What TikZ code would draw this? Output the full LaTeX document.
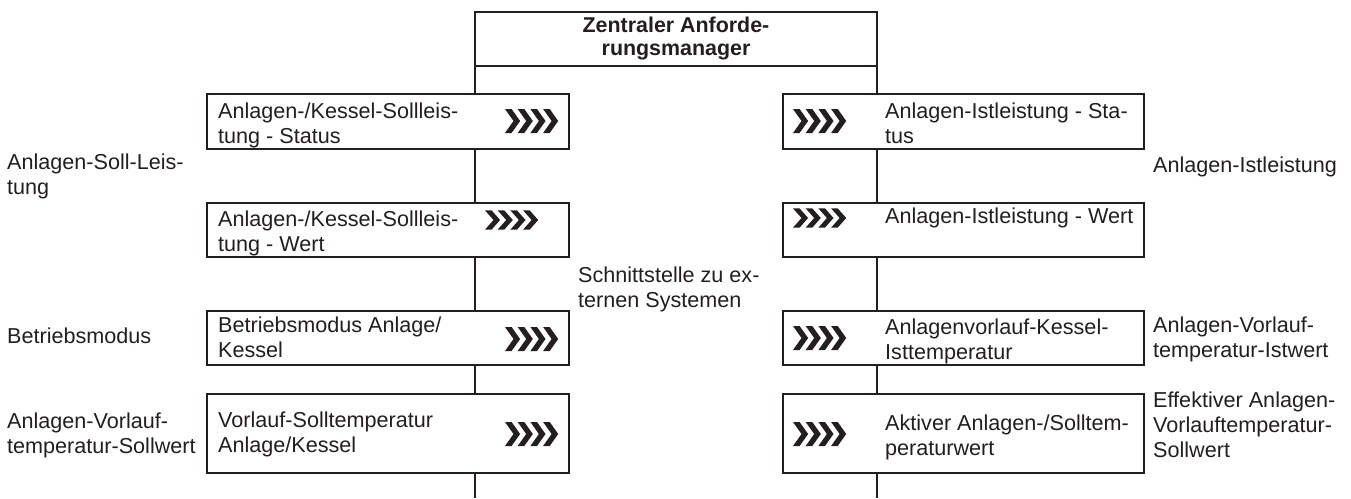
\documentclass[tikz,border=0pt]{standalone}
\usepackage{fontspec}
\setmainfont{Liberation Sans}
\definecolor{ink}{RGB}{35,31,32}
\tikzset{
  x=1pt, y=-1pt,
  every node/.style={text=ink},
  box/.style={draw=ink, line width=1.25pt, fill=white, inner sep=0pt, outer sep=0pt, anchor=north west},
  % anchored at the baseline of the last line
  label text/.style={font=\fontsize{21.6}{25}\selectfont, align=left, anchor=base west, inner sep=0pt},
  bus/.style={draw=ink, line width=1.25pt},
  pics/fwd/.style={code={
    \foreach \i in {0,...,3}{
      \fill[ink] (\i*12.7,-12) -- ++(6.6,0) -- ++(8.5,12) -- ++(-8.5,12)
                 -- ++(-6.6,0) -- ++(8.5,-12) -- cycle;
    }
  }}
}
\begin{document}
\begin{tikzpicture}
\useasboundingbox (0,0) rectangle (1351,498);

% central request manager
\node[box, minimum width=402, minimum height=54] (mgr) at (475,12) {};
\node[font=\fontsize{21.4}{23}\selectfont\bfseries, align=center, anchor=base, inner sep=0pt]
  (mgrtext) at (676,55) {Zentraler Anforde-\\rungsmanager};

% two bus lines running down from the manager
\coordinate (busL) at (475,498);
\coordinate (busR) at (877,498);
\draw[bus] (mgr.south west) -- (busL);
\draw[bus] (mgr.south east) -- (busR);

% left column: set values
\node[box, minimum width=362, minimum height=55] (L1) at (207,94) {};
\node[box, minimum width=362, minimum height=54] (L2) at (207,203) {};
\node[box, minimum width=362, minimum height=54] (L3) at (207,311) {};
\node[box, minimum width=362, minimum height=79] (L4) at (207,394) {};

% right column: actual values
\node[box, minimum width=361, minimum height=55] (R1) at (783,94) {};
\node[box, minimum width=361, minimum height=54] (R2) at (783,203) {};
\node[box, minimum width=361, minimum height=54] (R3) at (783,311) {};
\node[box, minimum width=361, minimum height=79] (R4) at (783,394) {};

% box texts
\node[label text] (L1t) at (218,143) {Anlagen-/Kessel-Sollleis-\\tung - Status};
\node[label text] (L2t) at (218,251) {Anlagen-/Kessel-Sollleis-\\tung - Wert};
\node[label text] (L3t) at (218,357) {Betriebsmodus Anlage/\\Kessel};
\node[label text] (L4t) at (218,452) {Vorlauf-Solltemperatur\\Anlage/Kessel};
\node[label text] (R1t) at (885,143) {Anlagen-Istleistung - Sta-\\tus};
\node[label text] (R2t) at (885,223) {Anlagen-Istleistung - Wert};
\node[label text] (R3t) at (885,359) {Anlagenvorlauf-Kessel-\\Isttemperatur};
\node[label text] (R4t) at (885,455) {Aktiver Anlagen-/Solltem-\\peraturwert};

% direction markers
\pic at (505,121) {fwd};
\pic[yscale=0.8] at (485,220) {fwd};
\pic at (505,339) {fwd};
\pic at (505,434) {fwd};
\pic at (793,121) {fwd};
\pic[yscale=0.8] at (793,218) {fwd};
\pic at (793,338) {fwd};
\pic at (793,434) {fwd};

% outer signal names
\node[label text] (sollL) at (7,194) {Anlagen-Soll-Leis-\\tung};
\node[label text] (modeL) at (7,343) {Betriebsmodus};
\node[label text] (vlL) at (7,453) {Anlagen-Vorlauf-\\temperatur-Sollwert};
\node[label text] (istR) at (1153,172) {Anlagen-Istleistung};
\node[label text] (vlR) at (1153,357) {Anlagen-Vorlauf-\\temperatur-Istwert};
\node[label text] (effR) at (1153,457) {Effektiver Anlagen-\\Vorlauftemperatur-\\Sollwert};
\node[label text] (iface) at (578,307) {Schnittstelle zu ex-\\ternen Systemen};
\end{tikzpicture}
\end{document}
